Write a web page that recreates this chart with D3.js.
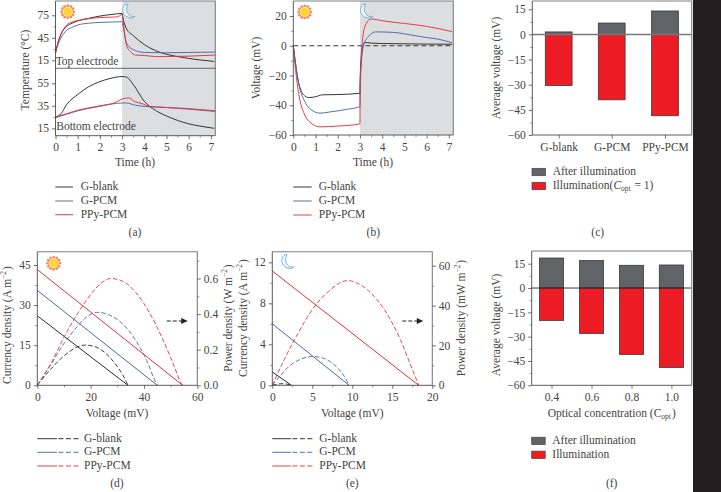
<!DOCTYPE html>
<html><head><meta charset="utf-8">
<script src="https://cdnjs.cloudflare.com/ajax/libs/d3/7.8.5/d3.min.js"></script>
<style>html,body{margin:0;padding:0;background:#fff}svg{display:block}text{font-family:"Liberation Serif",serif;fill:#444;font-size:11.5px}</style>
</head><body><svg id="c" width="721" height="492"></svg>
<script>
const seriesNames=["G-blank","G-PCM","PPy-PCM"];
const lineColors=["#2b2b2b","#4a66ad","#e2333f"];
// (a) temperature, top electrode
const aTopBlankT=[0,.1,.25,.5,.75,1,1.5,2,2.5,3,3.05,3.2,3.5,4,4.5,5,5.5,6,6.5,7.15];
const aTopBlank=[25,37,50,60,64.5,67.5,71,74,76,77.5,70,57,48,36,28,23,20,17.5,15.5,13.5];
const aTopPcmT=[0,.1,.25,.5,.75,1,1.5,2,2.5,3,3.05,3.2,3.4,3.6,4,5,6,7.2];
const aTopPcm=[25,35,45,55,59,62,64.5,65.5,66,66.5,60,38,31,28,25.5,25,25.5,26];
const aTopPpyT=[0,.1,.25,.5,.75,1,1.5,2,2.5,2.8,3,3.05,3.2,3.4,3.6,4,4.5,5,6,7.2];
const aTopPpy=[25,38,50,62,66,68,70.5,72,72.5,73,76,66,35,26,22,21.5,20,20,20.5,22];
// (a) temperature, bottom electrode
const aBotBlankT=[0,.25,.5,1,1.5,2,2.5,3,3.2,3.5,4,4.5,5,5.5,6,6.5,7.15];
const aBotBlank=[25,28,36,45,52,56.5,59.5,61,60.5,54,39,31,26,22,19,17,15];
const aBotPcmT=[0,.5,1,2,3,3.2,3.6,4,5,6,7.2];
const aBotPcm=[24.5,27.5,30.5,34.5,37.5,37.5,35.5,34.5,33.5,32,30];
const aBotPpyT=[0,.5,1,2,2.7,3,3.3,3.6,3.9,4.2,5,6,7.2];
const aBotPpy=[25,28,31,35,38,41,42,38.5,37,34.5,33.5,32.5,30.5];
// (b) voltage
const bBlankT=[0,.1,.2,.3,.5,.7,1,1.3,2,3,3.01,3.1,3.2,3.5,4,7.15];
const bBlank=[0,-12,-22,-28,-33.5,-34.8,-34.3,-33,-32.8,-32,-20,-3,2.2,1.8,1.5,1];
const bPcmT=[0,.1,.25,.5,.8,1.2,1.6,2,2.5,3,3.01,3.1,3.2,3.4,3.7,4.5,5,6,6.5,7.15];
const bPcm=[0,-12,-26,-37,-43,-45.3,-44.6,-43.8,-42.5,-41,-30,-5,2,6.5,9.3,9,8,5.5,4.5,2];
const bPpyT=[0,.1,.25,.5,.8,1.2,2,3,3.005,3.1,3.25,3.5,4,4.5,5,6,7.15];
const bPpy=[0,-16,-33,-46,-52,-54.5,-54,-52.5,-30,2,14,18,16.8,15.8,15,13,9.5];
// (c) bars
const cCategories=["G-blank","G-PCM","PPy-PCM"];
const cAfter=[1.5,6.8,14];
const cIllum=[-30.5,-39,-48.5];
// (d) current and power density under illumination
const dLineV=[[0,34],[0,45],[0,54.5]];
const dLineJ=[[26,0],[35.5,0],[43.3,0]];
const dPowV=[[0,5,10,15,18,22,26,30,32,34],[0,5,10,15,19,23,27,32,37,41,44,45],[0,5,10,15,20,24,27.5,32,37,42,47,51,54,54.5]];
const dPowP=[[0,.09,.165,.215,.226,.215,.175,.105,.06,0],[0,.115,.235,.33,.39,.41,.395,.345,.25,.14,.03,0],[0,.12,.27,.4,.51,.575,.6,.585,.52,.41,.26,.12,.01,0]];
// (e) current and power density after illumination
const eLineV=[[0,2.4],[0,9.6],[0,18.3]];
const eLineJ=[[1.3,0],[6,0],[11.15,0]];
const ePowV=[[0,.6,1.2,1.8,2.4],[0,1,2,3.5,5,6.5,8,9,9.6],[0,1.5,3,5,7,9.4,12,14,16,17.5,18.3]];
const ePowP=[[0,.6,.8,.6,0],[0,4.8,9.2,13,14.5,13.4,9.4,4.5,0],[0,13,24.5,38,47,52.5,47.5,38,23,8,0]];
// (f) bars
const fCategories=["0.4","0.6","0.8","1.0"];
const fAfter=[18.5,17,14,14.2];
const fIllum=[-20,-28,-41,-49];

const svg=d3.select("#c");
const GREY="#dcdee0",FRAME="#7d7f82",DARK="#4a4a4a",BAR1="#626366",BAR2="#ed1c24";
const fmt=d=>String(d).replace("-","\u2212");

function label(x,y,t,o={}){
  const e=svg.append("text").attr("x",x).attr("y",y).attr("text-anchor",o.anchor||"middle").attr("dominant-baseline","middle");
  if(o.size)e.style("font-size",o.size+"px");
  if(o.rot)e.attr("transform",`rotate(${o.rot} ${x} ${y})`);
  (Array.isArray(t)?t:[t]).forEach(p=>{
    if(typeof p==="string")e.append("tspan").text(p);
    else if(p.i)e.append("tspan").style("font-style","italic").text(p.t);
    else{
      e.append("tspan").attr("dy",p.d).style("font-size","7.5px").text(p.t);
      e.append("tspan").attr("dy",-p.d).text("\u200a");
    }
  });
  return e;
}
function axis(g,gen){
  g.call(gen);
  g.select(".domain").remove();
  g.selectAll("line").attr("stroke",DARK).attr("stroke-width",.8);
  g.selectAll("text").style("font-size","11.5px").attr("fill","#444");
}
function leftAxis(scale,x,major,minor){
  const a=svg.append("g").attr("transform",`translate(${x},0)`);
  axis(a,d3.axisLeft(scale).tickValues(major).tickFormat(fmt).tickSize(3.5).tickPadding(3));
  const m=svg.append("g").attr("transform",`translate(${x},0)`);
  m.call(d3.axisLeft(scale).tickValues(minor).tickFormat("").tickSize(2));
  m.select(".domain").remove();m.selectAll("line").attr("stroke",DARK).attr("stroke-width",.6);
}
function rightAxis(scale,x,major,minor,f){
  const a=svg.append("g").attr("transform",`translate(${x},0)`);
  axis(a,d3.axisRight(scale).tickValues(major).tickFormat(f).tickSize(3.5).tickPadding(3));
  const m=svg.append("g").attr("transform",`translate(${x},0)`);
  m.call(d3.axisRight(scale).tickValues(minor).tickFormat("").tickSize(2));
  m.select(".domain").remove();m.selectAll("line").attr("stroke",DARK).attr("stroke-width",.6);
}
function bottomAxis(scale,y,major,minor,f){
  const a=svg.append("g").attr("transform",`translate(0,${y})`);
  axis(a,d3.axisBottom(scale).tickValues(major).tickFormat(f||fmt).tickSize(3.5).tickPadding(4));
  if(minor){
    const m=svg.append("g").attr("transform",`translate(0,${y})`);
    m.call(d3.axisBottom(scale).tickValues(minor).tickFormat("").tickSize(2));
    m.select(".domain").remove();m.selectAll("line").attr("stroke",DARK).attr("stroke-width",.6);
  }
}
function frame(x0,y0,x1,y1){
  svg.append("path").attr("d",`M${x0},${y0}H${x1}V${y1}`).attr("fill","none").attr("stroke",FRAME).attr("stroke-width",1.1);
  svg.append("path").attr("d",`M${x0},${y0}V${y1}H${x1}`).attr("fill","none").attr("stroke",DARK).attr("stroke-width",.9);
}
function curve(xs,ys,sx,sy,color,o={}){
  const data=xs.map((x,i)=>[x,ys[i]]);
  svg.append("path").datum(data)
    .attr("d",d3.line().x(d=>sx(d[0])).y(d=>sy(d[1])).curve(o.straight?d3.curveLinear:d3.curveMonotoneX))
    .attr("fill","none").attr("stroke",color).attr("stroke-width",o.w||.95)
    .attr("stroke-dasharray",o.dash||null);
}
function sun(cx,cy){
  const g=svg.append("g").attr("transform",`translate(${cx},${cy})`);
  d3.range(12).forEach(i=>{
    const a=i*Math.PI/6;
    g.append("circle").attr("cx",6.3*Math.cos(a)).attr("cy",6.3*Math.sin(a)).attr("r",1.3).attr("fill","#ee9366");
  });
  g.append("circle").attr("r",6).attr("fill","#ee9366");
  g.append("circle").attr("r",5).attr("fill","#fff3c0");
  g.append("circle").attr("r",4.3).attr("fill","#fdd431");
}
function moon(cx,cy){
  svg.append("path").attr("transform",`translate(${cx},${cy})`)
    .attr("d","M1,-7 C-6,-7 -7,6 4,7 C6.5,7 7.5,6 8,5.5 C2,7 -3,0 1,-7Z")
    .attr("fill","#f2f7fb").attr("stroke","#6cabdc").attr("stroke-width",.9);
}
function lineLegend(x0,x1,tx,ys,dashed){
  seriesNames.forEach((n,i)=>{
    const mid=dashed?x0+(x1-x0)*.46:x1;
    svg.append("line").attr("x1",x0).attr("x2",mid).attr("y1",ys[i]).attr("y2",ys[i]).attr("stroke",lineColors[i]).attr("stroke-width",.95);
    if(dashed)svg.append("line").attr("x1",mid+1.5).attr("x2",x1).attr("y1",ys[i]).attr("y2",ys[i]).attr("stroke",lineColors[i]).attr("stroke-width",.95).attr("stroke-dasharray","5 2.5");
    label(tx,ys[i],n,{anchor:"start"});
  });
}
function barLegend(x,tx,y0,y1,t0,t1){
  [[y0,BAR1,t0],[y1,BAR2,t1]].forEach(([y,c,t])=>{
    svg.append("rect").attr("x",x).attr("y",y-3.7).attr("width",13.5).attr("height",7.4).attr("fill",c).attr("stroke","#444").attr("stroke-width",.7);
    label(tx,y,t,{anchor:"start"});
  });
}
function arrow(x0,x1,y){
  svg.append("line").attr("x1",x0).attr("x2",x1-6).attr("y1",y).attr("y2",y).attr("stroke","#222").attr("stroke-width",1.1).attr("stroke-dasharray","4 2");
  svg.append("path").attr("d",`M${x1-6.5},${y-3}L${x1},${y}L${x1-6.5},${y+3}Z`).attr("fill","#222");
}

// black strip on the right
svg.append("rect").attr("x",693).attr("y",0).attr("width",28).attr("height",492).attr("fill","#231f20");

// ---- (a)
{
  const x=d3.scaleLinear().domain([0,7.2]).range([55.5,215.3]);
  const yT=d3.scaleLinear().domain([15,75]).range([60.3,15.3]);
  const yB=d3.scaleLinear().domain([15,55]).range([128.3,83.3]);
  svg.append("rect").attr("x",x(3)).attr("y",1).attr("width",x(7.2)-x(3)).attr("height",134.7).attr("fill",GREY);
  [[aTopBlankT,aTopBlank,0],[aTopPcmT,aTopPcm,1],[aTopPpyT,aTopPpy,2]].forEach(([t,v,i])=>curve(t,v,x,yT,lineColors[i]));
  [[aBotBlankT,aBotBlank,0],[aBotPcmT,aBotPcm,1],[aBotPpyT,aBotPpy,2]].forEach(([t,v,i])=>curve(t,v,x,yB,lineColors[i]));
  frame(55.5,1,215.3,135.7);
  svg.append("line").attr("x1",55.5).attr("x2",215.3).attr("y1",68.3).attr("y2",68.3).attr("stroke",DARK).attr("stroke-width",.8);
  leftAxis(yT,55.5,[15,45,75],[30,60]);
  leftAxis(yB,55.5,[15,35,55],[25,45]);
  bottomAxis(x,135.7,[0,1,2,3,4,5,6,7],[.5,1.5,2.5,3.5,4.5,5.5,6.5]);
  label(87,62,"Top electrode");
  label(96,127.3,"Bottom electrode");
  label(26,70,"Temperature (\u00B0C)",{rot:-90});
  label(135,163,"Time (h)");
  sun(67.7,11.7);moon(127,11);
  lineLegend(55.3,73,80.7,[187,201,214.7]);
  label(135,233,"(a)");
}
// ---- (b)
{
  const x=d3.scaleLinear().domain([0,7.2]).range([293.3,453.3]);
  const y=d3.scaleLinear().domain([-60,20]).range([135,16]);
  svg.append("rect").attr("x",x(3)).attr("y",1).attr("width",x(7.2)-x(3)).attr("height",134).attr("fill",GREY);
  svg.append("line").attr("x1",x(0)).attr("x2",x(7.2)).attr("y1",y(0)).attr("y2",y(0)).attr("stroke","#222").attr("stroke-width",.9).attr("stroke-dasharray","5 3");
  [[bBlankT,bBlank,0],[bPcmT,bPcm,1],[bPpyT,bPpy,2]].forEach(([t,v,i])=>curve(t,v,x,y,lineColors[i]));
  frame(293.3,1,453.3,135);
  leftAxis(y,293.3,[-60,-40,-20,0,20],[-50,-30,-10,10]);
  bottomAxis(x,135,[0,1,2,3,4,5,6,7],[.5,1.5,2.5,3.5,4.5,5.5,6.5]);
  label(257,68,"Voltage (mV)",{rot:-90});
  label(373,163,"Time (h)");
  sun(304.7,12);moon(364.7,11);
  lineLegend(293.3,311.7,318.7,[187,201,215]);
  label(373.3,233,"(b)");
}
// ---- bars
function bars(cats,after,illum,x0,x1,y,band,barW,zero){
  const cx=d3.scaleOrdinal().domain(cats).range(band);
  [[after,BAR1],[illum,BAR2]].forEach(([vals,c])=>{
    svg.append("g").selectAll("rect").data(vals).join("rect")
      .attr("x",(d,i)=>cx(cats[i])-barW/2).attr("width",barW)
      .attr("y",d=>Math.min(y(d),y(0))).attr("height",d=>Math.abs(y(d)-y(0)))
      .attr("fill",c).attr("stroke","#3a3a3a").attr("stroke-width",.8);
  });
  svg.append("line").attr("x1",x0).attr("x2",x1).attr("y1",y(0)).attr("y2",y(0)).attr("stroke",zero).attr("stroke-width",zero==="#222"?.9:1.4);
  return cx;
}
// ---- (c)
{
  const y=d3.scaleLinear().domain([-60,15]).range([135,9.3]);
  const cx=bars(cCategories,cAfter,cIllum,532.3,691.7,y,[558.7,611.7,665],26.8,"#77787a");
  frame(532.3,1,691.7,135);
  leftAxis(y,532.3,[-60,-45,-30,-15,0,15],[-52.5,-37.5,-22.5,-7.5,7.5]);
  bottomAxis(cx,135,cCategories,null,d=>d);
  label(496.7,68,"Average voltage (mV)",{rot:-90});
  barLegend(532,552.7,172,186,"After illumination",["Illumination(",{t:"C",i:1},{t:"opt",d:3}," = 1)"]);
  label(597.7,233,"(c)");
}
// ---- (d)
{
  const x=d3.scaleLinear().domain([0,60]).range([37.3,197.3]);
  const yL=d3.scaleLinear().domain([0,45]).range([385.3,265]);
  const yR=d3.scaleLinear().domain([0,.6]).range([385.3,278.5]);
  d3.range(3).forEach(i=>{
    curve(dLineV[i],dLineJ[i],x,yL,lineColors[i],{straight:1,w:1});
    curve(dPowV[i],dPowP[i],x,yR,lineColors[i],{dash:"4.5 2.2",w:.9});
  });
  frame(37.3,251.7,197.3,385.3);
  leftAxis(yL,37.3,[0,15,30,45],[7.5,22.5,37.5]);
  rightAxis(yR,197.3,[0,.2,.4,.6],[.1,.3,.5,.7],d=>d3.format(".1f")(d));
  bottomAxis(x,385.3,[0,20,40,60],[10,30,50]);
  label(8.3,325,["Currency density (A m",{t:"\u22122",d:-4},")"],{rot:-90});
  label(229,318,["Power density (W m",{t:"\u22122",d:-4},")"],{rot:-90});
  label(117,413.7,"Voltage (mV)");
  sun(53.7,263.3);
  arrow(166.7,187.7,321);
  lineLegend(37.3,80,84,[438.7,452.3,466],true);
  label(117,483.7,"(d)");
}
// ---- (e)
{
  const x=d3.scaleLinear().domain([0,20]).range([272.3,432.3]);
  const yL=d3.scaleLinear().domain([0,12]).range([385.3,262.3]);
  const yR=d3.scaleLinear().domain([0,60]).range([385.3,265.7]);
  d3.range(3).forEach(i=>{
    curve(eLineV[i],eLineJ[i],x,yL,lineColors[i],{straight:1,w:1});
    curve(ePowV[i],ePowP[i],x,yR,lineColors[i],{dash:"4.5 2.2",w:.9});
  });
  frame(272.3,251.7,432.3,385.3);
  leftAxis(yL,272.3,[0,4,8,12],[2,6,10]);
  rightAxis(yR,432.3,[0,20,40,60],[10,30,50],d=>d);
  bottomAxis(x,385.3,[0,5,10,15,20],[2.5,7.5,12.5,17.5]);
  label(243.7,318,["Currency density (A m",{t:"\u22122",d:-4},")"],{rot:-90});
  label(462.3,318,["Power density (mW m",{t:"\u22122",d:-4},")"],{rot:-90});
  label(352.3,413.7,"Voltage (mV)");
  moon(286,261.5);
  arrow(402.3,423.3,321);
  lineLegend(272.3,312.7,319.3,[438.7,452.3,466],true);
  label(352.3,483.7,"(e)");
}
// ---- (f)
{
  const y=d3.scaleLinear().domain([-60,15]).range([385.3,263.7]);
  const cx=bars(fCategories,fAfter,fIllum,531.7,691.7,y,[551.5,591.5,631.5,671.4],24.2,"#222");
  frame(531.7,251,691.7,385.3);
  leftAxis(y,531.7,[-60,-45,-30,-15,0,15],[-52.5,-37.5,-22.5,-7.5,7.5]);
  bottomAxis(cx,385.3,fCategories,null,d=>d);
  label(497,325,"Average voltage (mV)",{rot:-90});
  label(611.7,413.7,["Optical concentration (C",{t:"opt",d:3},")"]);
  barLegend(531.7,552.3,440.9,454.8,"After illumination","Illumination");
  label(611.7,484,"(f)");
}
</script></body></html>
